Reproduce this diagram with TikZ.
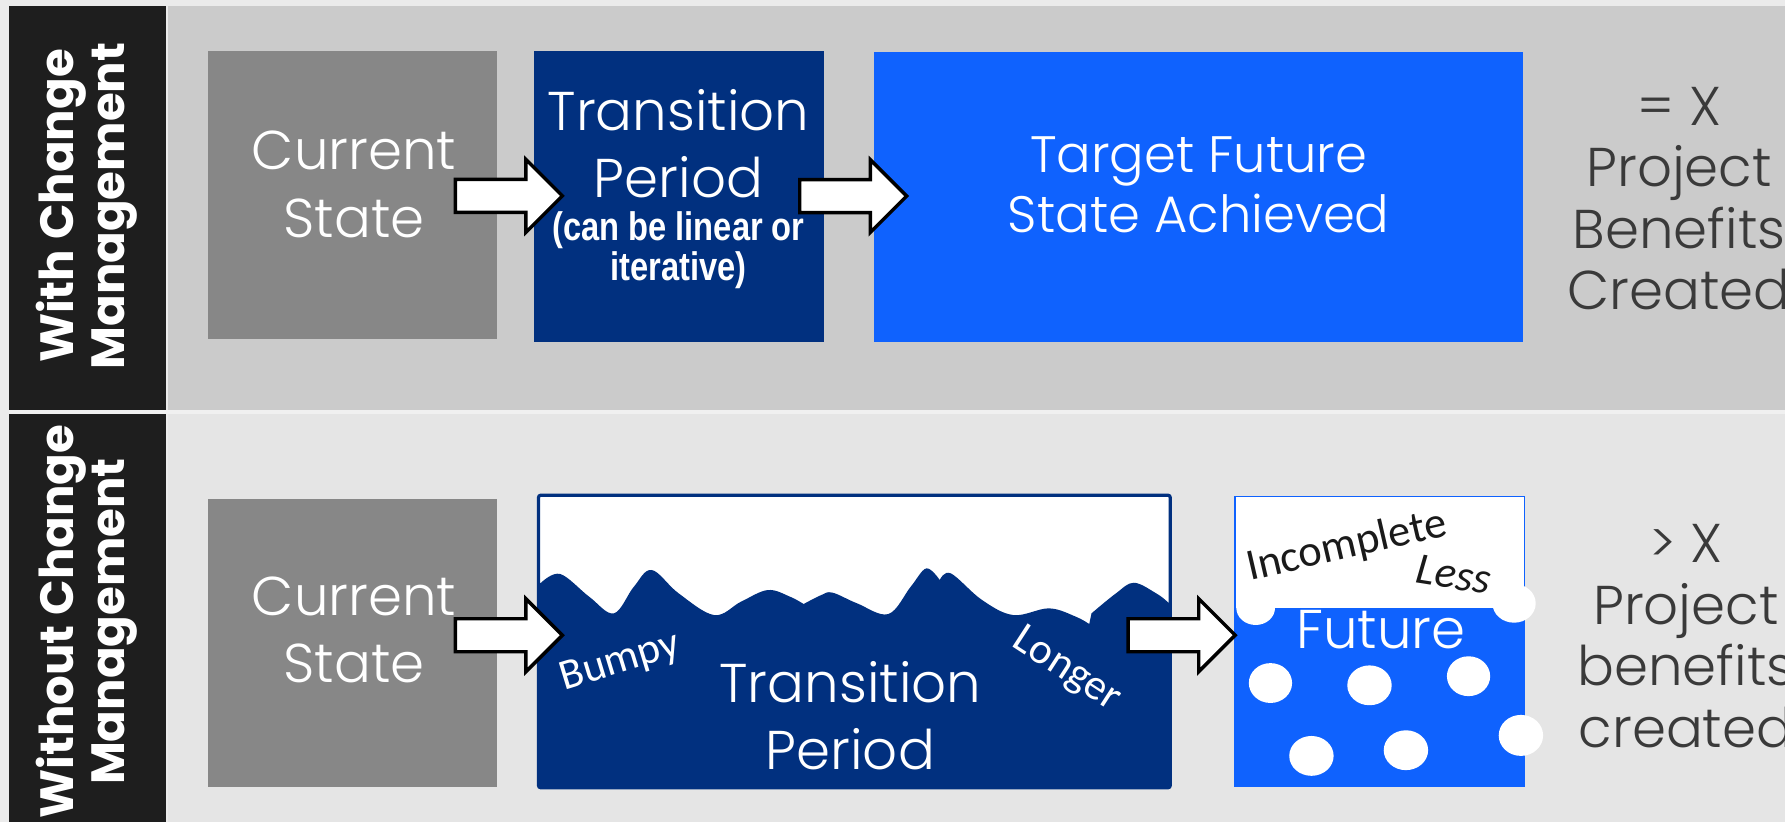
\documentclass[tikz,border=0pt]{standalone}
\usepackage{fontspec}
\IfFontExistsTF{Poppins Light}
  {\setmainfont{Poppins Light}[BoldFont=Poppins Bold]}
  {\setmainfont{Poppins}}
\newfontfamily\notefont{Carlito}
\newfontfamily\narrowfont{Liberation Sans}[FakeStretch=0.82]
\usetikzlibrary{calc}

\definecolor{pagebg}{HTML}{EBEBEB}
\definecolor{barblack}{HTML}{1E1E1E}
\definecolor{rowtop}{HTML}{CBCBCB}
\definecolor{rowbot}{HTML}{E5E5E5}
\definecolor{stategrey}{HTML}{878787}
\definecolor{navy}{HTML}{01307F}
\definecolor{brightblue}{HTML}{0F62FE}
\definecolor{inkgrey}{HTML}{3A3A3A}
\definecolor{inkblack}{HTML}{1A1A1A}

\tikzset{
  box/.style={rectangle, inner sep=0pt, outer sep=0pt},
  bigtext/.style={text=white, align=center, inner sep=0pt, font=\fontsize{24}{29.5}\selectfont},
  sidetext/.style={text=inkgrey, align=center, inner sep=0pt, font=\fontsize{24}{27}\selectfont},
  rowtitle/.style={text=white, align=center, inner sep=0pt, rotate=90, font=\bfseries\fontsize{20.5}{22.5}\selectfont},
  notetext/.style={inner sep=0pt, font=\notefont\fontsize{19}{21}\selectfont},
  arrowline/.style={draw=black, fill=white, line width=1.5pt, line join=miter},
  fatarrow/.pic={\path[arrowline] (0,-14.5) -- (62,-14.5) -- (62,-32) -- (94,0) -- (62,32) -- (62,14.5) -- (0,14.5) -- cycle;}
}

\begin{document}
\begin{tikzpicture}[x=0.5pt, y=-0.5pt]
\useasboundingbox (0,0) rectangle (1568,722);

% frame, title bar and the two rows
\fill[pagebg] (0,0) rectangle (1568,722);
\fill[barblack] (8,5) rectangle (146,722);
\fill[rowtop] (148,5) rectangle (1568,360);
\fill[rowbot] (148,364) rectangle (1568,722);
\fill[white!94!black] (8,360.5) rectangle (1568,363.5);

% row titles
\node[rowtitle] (rowwith) at (76,181) {With Change\\Management};
\node[rowtitle] (rowwithout) at (76,546) {Without Change\\Management};

% ---------- with change management ----------
\node[box, fill=stategrey, minimum width=127pt, minimum height=126.5pt] (cs1) at (310,171.5) {};
\node[box, fill=navy, minimum width=127.25pt, minimum height=127.75pt] (tp1) at (596.25,172.25) {};
\node[box, fill=brightblue, minimum width=284.75pt, minimum height=127pt] (tf) at (1052.75,173) {};

\node[bigtext] (cs1t) at (311,162) {Current\\State};
\node[bigtext] (tp1t) at (596,126) {Transition\\Period};
\node[text=white, align=center, inner sep=0pt, font=\narrowfont\bfseries\fontsize{17.5}{17.5}\selectfont] (tp1s) at (596,220) {(can be linear or\\iterative)};
\node[bigtext, font=\fontsize{22.5}{26.5}\selectfont] (tft) at (1053,162.5) {Target Future\\State Achieved};
\node[sidetext] (ben1) at (1475,174.5) {= X\\Project\\Benefits\\Created};

\pic at ($(cs1.east)+(-37,0.5)$) {fatarrow};
\pic at ($(tp1.east)+(-21,0)$) {fatarrow};

% ---------- without change management ----------
\node[box, fill=stategrey, minimum width=127pt, minimum height=126.5pt] (cs2) at (310,564.5) {};
\node[box, fill=white, minimum width=277.5pt, minimum height=128.5pt] (tp2) at (750.5,563.5) {};
\node[box, fill=brightblue, minimum width=127pt, minimum height=127.5pt] (fut) at (1212,563.5) {};

% bumpy surface of the transition period
\begin{scope}
  \clip (tp2.south west) rectangle (tp2.north east);
  \fill[navy] (tp2.south west) -- (473,512)
    -- plot[smooth, tension=0.6] coordinates {(475.3,511.9) (492.1,504.2) (517.6,524.2) (539.2,538.8) (556.8,515.4) (572.5,500.7) (596.1,521.2) (627.4,540.3) (651.0,528.5) (674.5,518.3) (694.1,524.2) (705.9,530.6)}
    -- plot[smooth, tension=0.6] coordinates {(705.9,530.6) (721.5,522.7) (731.3,520.6) (752.9,530.0) (780.3,539.4) (800.0,515.4) (813.7,499.3) (825.5,509.5)}
    -- plot[smooth, tension=0.6] coordinates {(825.5,509.5) (835.3,503.7) (862.7,527.1) (890.2,540.3) (921.5,534.4) (945.0,541.7) (956.8,548.2)}
    -- plot[smooth, tension=0.6] coordinates {(958.8,538.8) (980.3,521.2) (996.0,511.9) (1015.6,521.2) (1025.4,528.5) (1030,533)}
    -- (tp2.south east) -- cycle;
\end{scope}
\draw[navy, line width=1.4pt, rounded corners=1pt] (tp2.south west) rectangle (tp2.north east);

% unfinished future state
\fill[white] (fut.north west) rectangle ($(fut.north east)+(0,98)$);
\draw[brightblue, line width=0.7pt] (fut.south west) rectangle (fut.north east);
\foreach \cx/\cy/\rx/\ry in {1103/534/17/15, 1330/530/19/17, 1116/600/19/17.5, 1203/602/19.5/17.5, 1290/594/19/17.5, 1152/664/19.5/17.5, 1235/659/19.5/17.5, 1336/646/19.5/18}
  \fill[white] (\cx,\cy) ellipse [x radius=\rx, y radius=\ry];

\node[bigtext] (cs2t) at (311,553) {Current\\State};
\node[bigtext] (tp2t) at (747,628.5) {Transition\\Period};
\node[bigtext] (futt) at (1213,553) {Future};
\node[notetext, text=white, rotate=17] (bumpy) at (545,582) {Bumpy};
\node[notetext, text=white, rotate=-33] (longer) at (937,588.5) {Longer};
\node[notetext, text=inkblack, rotate=13, font=\notefont\fontsize{19.5}{21}\selectfont] (incomplete) at (1183,480) {Incomplete};
\node[notetext, text=inkblack, rotate=-9, font=\notefont\itshape\fontsize{19.5}{21}\selectfont] (less) at (1277,505) {Less};
\node[sidetext] (ben2) at (1481,558.8) {> X\\Project\\benefits\\created};

\pic at ($(cs2.east)+(-37,-6.5)$) {fatarrow};
\pic at ($(fut.west)+(-94,-5.5)$) {fatarrow};
\end{tikzpicture}
\end{document}
